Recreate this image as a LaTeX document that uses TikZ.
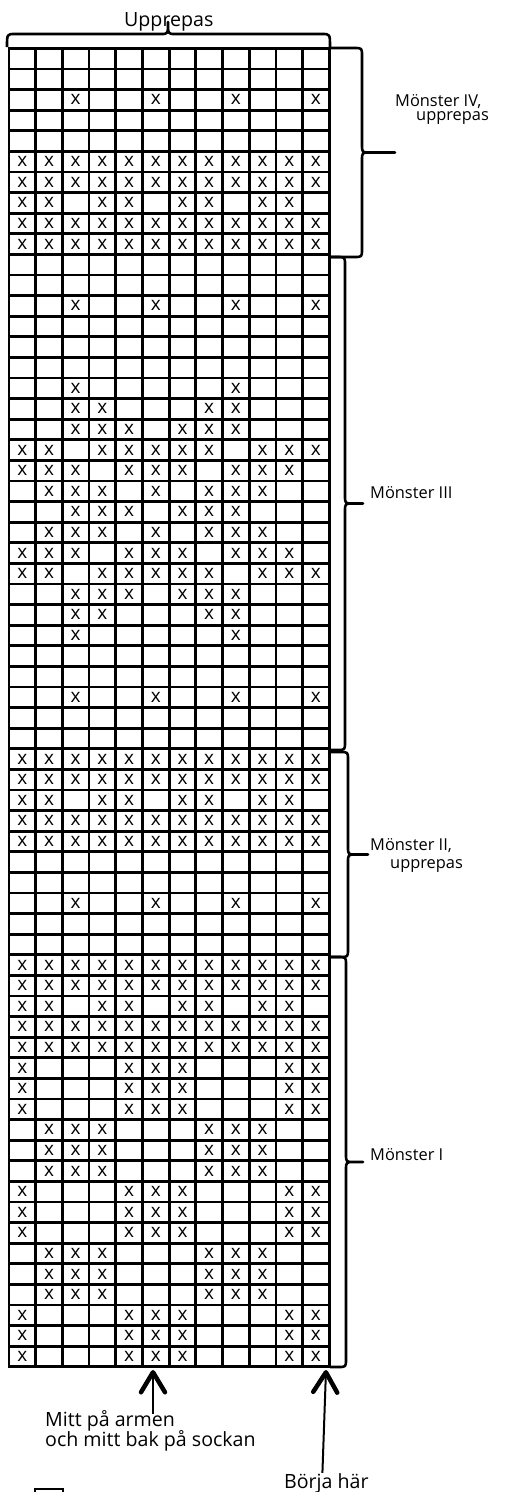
\documentclass[tikz,border=0pt]{standalone}
\usepackage{fontspec}
\setmainfont{Open Sans}
\usetikzlibrary{arrows.meta,positioning}
\tikzstyle{gridline}=[
	line width=2.8pt,
	line cap=rect
]
\tikzstyle{stitch}=[
	inner sep=0pt,
	font=\fontsize{19}{19}\selectfont
]
\tikzstyle{sectionbrace}=[
	line width=2.6pt,
	line join=round
]
\tikzstyle{sidetext}=[
	anchor=base west,
	inner sep=0pt,
	font=\fontsize{16.4}{17}\selectfont
]
\tikzstyle{notetext}=[
	anchor=base west,
	inner sep=0pt,
	font=\fontsize{19.6}{20}\selectfont
]
\tikzstyle{pointer}=[
	line width=2pt,
	-{Straight Barb[length=20pt,width=24pt,line width=4.5pt,round]}
]
% right brace: edge x, stem x, tip x, top y, bottom y
\newcommand{\drawrbrace}[5]{%
	\draw[sectionbrace] (#1,#4) -- ({#2-8},#4) .. controls (#2,#4) .. (#2,{#4+8})
		-- (#2,{(#4+#5)/2-8}) .. controls (#2,{(#4+#5)/2}) .. ({#2+8},{(#4+#5)/2})
		-- (#3,{(#4+#5)/2}) -- ({#2+8},{(#4+#5)/2})
		.. controls (#2,{(#4+#5)/2}) .. (#2,{(#4+#5)/2+8})
		-- (#2,{#5-8}) .. controls (#2,#5) .. ({#2-8},#5) -- (#1,#5);}

\begin{document}
\begin{tikzpicture}[x=1pt,y=-1pt]
\useasboundingbox (0,0) rectangle (507,1492);
% chart
\foreach \i in {0,...,12}
	\draw[gridline] ({9+\i*26.69},48.3) -- ({9+\i*26.69},1366.7);
\foreach \j in {0,...,64}
	\draw[gridline] (9,{48.3+\j*20.6}) -- (329.3,{48.3+\j*20.6});
\foreach \r/\cs in {
	3/{3,6,9,12}, 6/{1,...,12}, 7/{1,...,12}, 8/{1,2,4,5,7,8,10,11},
	9/{1,...,12}, 10/{1,...,12},
	13/{3,6,9,12}, 17/{3,9}, 18/{3,4,8,9}, 19/{3,4,5,7,8,9},
	20/{1,2,4,5,6,7,8,10,11,12}, 21/{1,2,3,5,6,7,9,10,11},
	22/{2,3,4,6,8,9,10}, 23/{3,4,5,7,8,9}, 24/{2,3,4,6,8,9,10},
	25/{1,2,3,5,6,7,9,10,11}, 26/{1,2,4,5,6,7,8,10,11,12},
	27/{3,4,5,7,8,9}, 28/{3,4,8,9}, 29/{3,9}, 32/{3,6,9,12},
	35/{1,...,12}, 36/{1,...,12}, 37/{1,2,4,5,7,8,10,11},
	38/{1,...,12}, 39/{1,...,12}, 42/{3,6,9,12},
	45/{1,...,12}, 46/{1,...,12}, 47/{1,2,4,5,7,8,10,11},
	48/{1,...,12}, 49/{1,...,12},
	50/{1,5,6,7,11,12}, 51/{1,5,6,7,11,12}, 52/{1,5,6,7,11,12},
	53/{2,3,4,8,9,10}, 54/{2,3,4,8,9,10}, 55/{2,3,4,8,9,10},
	56/{1,5,6,7,11,12}, 57/{1,5,6,7,11,12}, 58/{1,5,6,7,11,12},
	59/{2,3,4,8,9,10}, 60/{2,3,4,8,9,10}, 61/{2,3,4,8,9,10},
	62/{1,5,6,7,11,12}, 63/{1,5,6,7,11,12}, 64/{1,5,6,7,11,12}}
	\foreach \c in \cs
		\node[stitch] (x-\r-\c) at ({9+(\c-0.5)*26.69},{48.3+(\r-0.5)*20.6}) {x};

% braces and section names
\draw[sectionbrace] (7,47) .. controls (7,34) .. (15,34) -- (161,34)
	.. controls (168,34) .. (168,22) .. controls (168,34) .. (175,34)
	-- (322,34) .. controls (330,34) .. (330,47);
\node[notetext] (repeat) at (124,26) {Upprepas};
\drawrbrace{330}{362}{395}{48}{257}
\node[sidetext] (patIVa) at (395,106) {Mönster IV,};
\node[sidetext] (patIVb) at (416,120) {upprepas};
\drawrbrace{330}{345}{363}{257}{750}
\node[sidetext] (patIII) at (370,498) {Mönster III};
\drawrbrace{330}{348}{368}{752}{957}
\node[sidetext] (patIIa) at (370,850) {Mönster II,};
\node[sidetext] (patIIb) at (390,868) {upprepas};
\drawrbrace{330}{346}{363}{957}{1367}
\node[sidetext] (patI) at (370,1160) {Mönster I};

% pointers below the chart
\node[notetext] (middle1) at (45,1426) {Mitt på armen};
\node[notetext] (middle2) at (45,1446) {och mitt bak på sockan};
\coordinate (midtail) at (153,1414);
\coordinate (midtip) at (153,1370);
\draw[pointer] (midtail) -- (midtip);
\node[notetext] (start) at (284,1488) {Börja här};
\coordinate (starttip) at (326,1370);
\draw[pointer] ([xshift=-4pt]start.north) -- (starttip);

\draw[line width=2.5pt] (35,1489) rectangle (63,1500);
\end{tikzpicture}
\end{document}
